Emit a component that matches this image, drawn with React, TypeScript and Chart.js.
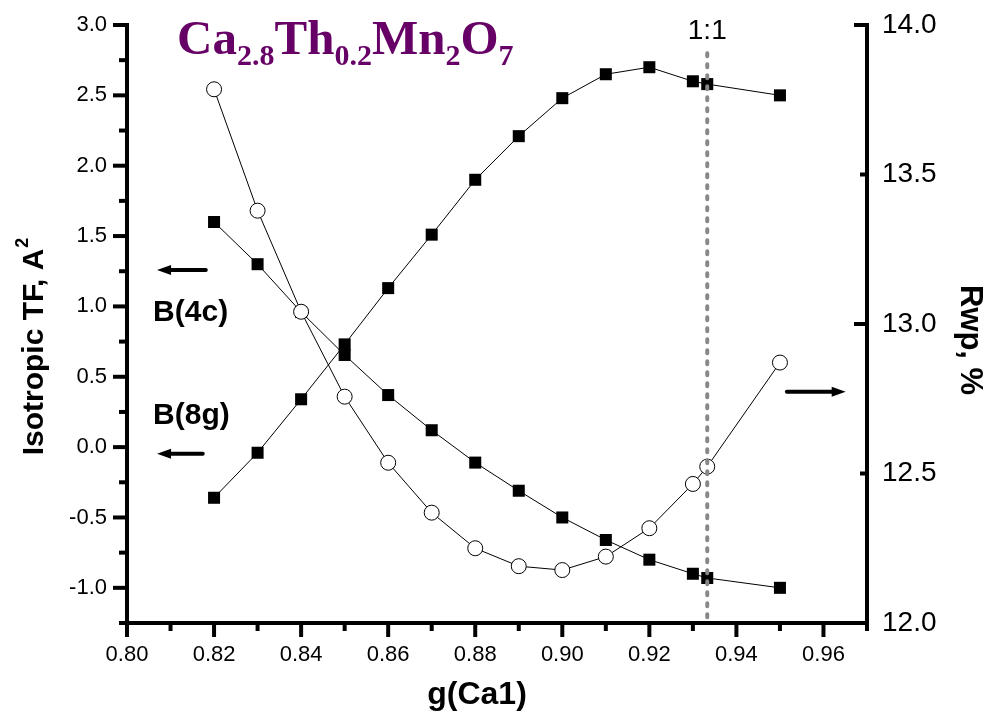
import React, { useEffect, useRef } from "react";
import { Chart, registerables } from "chart.js";

Chart.register(...registerables);

// ---------- data ----------
const gCa1 = [0.82, 0.83, 0.84, 0.85, 0.86, 0.87, 0.88, 0.89, 0.9, 0.91, 0.92, 0.93, 0.9333, 0.95];
const b8g = [-0.36, -0.04, 0.34, 0.73, 1.13, 1.51, 1.9, 2.21, 2.48, 2.65, 2.7, 2.6, 2.58, 2.5];
const b4c = [1.6, 1.3, 0.96, 0.655, 0.37, 0.12, -0.11, -0.31, -0.5, -0.66, -0.8, -0.9, -0.93, -1.0];
const rwp = [13.785, 13.379, 13.041, 12.757, 12.536, 12.369, 12.25, 12.19, 12.177, 12.222, 12.317, 12.465, 12.523, 12.871];

const ratioX = 0.9333;
const ratioYRange = [2.8, -1.25];

const xTicks = [0.8, 0.82, 0.84, 0.86, 0.88, 0.9, 0.92, 0.94, 0.96];
const xMinorTicks = [0.81, 0.83, 0.85, 0.87, 0.89, 0.91, 0.93, 0.95, 0.97];
const yLeftTicks = [-1.0, -0.5, 0.0, 0.5, 1.0, 1.5, 2.0, 2.5, 3.0];
const yLeftMinorTicks = [-1.25, -0.75, -0.25, 0.25, 0.75, 1.25, 1.75, 2.25, 2.75];
const yRightTicks = [12.0, 12.5, 13.0, 13.5, 14.0];
const yRightMajorMarks = [12.0, 13.0, 14.0];
const yRightMinorMarks = [12.5, 13.5];

const SANS = "'Liberation Sans', Arial, sans-serif";
const SERIF = "'Liberation Serif', 'Times New Roman', serif";

const titleParts: [string, boolean][] = [
  ["Ca", false], ["2.8", true], ["Th", false], ["0.2", true], ["Mn", false], ["2", true], ["O", false], ["7", true],
];

function arrow(ctx: CanvasRenderingContext2D, x1: number, x2: number, y: number, headAtRight: boolean) {
  const head = 14, half = 5;
  ctx.save();
  ctx.strokeStyle = "#000";
  ctx.fillStyle = "#000";
  ctx.lineWidth = 4;
  ctx.lineCap = "round";
  ctx.beginPath();
  if (headAtRight) {
    ctx.moveTo(x1, y);
    ctx.lineTo(x2 - head + 2, y);
  } else {
    ctx.moveTo(x1 + head - 2, y);
    ctx.lineTo(x2, y);
  }
  ctx.stroke();
  ctx.beginPath();
  if (headAtRight) {
    ctx.moveTo(x2, y);
    ctx.lineTo(x2 - head, y - half);
    ctx.lineTo(x2 - head, y + half);
  } else {
    ctx.moveTo(x1, y);
    ctx.lineTo(x1 + head, y - half);
    ctx.lineTo(x1 + head, y + half);
  }
  ctx.closePath();
  ctx.fill();
  ctx.restore();
}

const overlay = {
  id: "overlay",
  afterDraw(chart: any) {
    const { ctx, chartArea, scales } = chart;
    const xs = scales.x, ys = scales.y, yr = scales.y1;
    ctx.save();
    // tick marks
    ctx.strokeStyle = "#000";
    ctx.lineWidth = 4;
    ctx.lineCap = "butt";
    const line = (a: number, b: number, c: number, d: number) => {
      ctx.beginPath();
      ctx.moveTo(a, b);
      ctx.lineTo(c, d);
      ctx.stroke();
    };
    const L = chartArea.left, R = chartArea.right, B = chartArea.bottom;
    yLeftTicks.forEach((v) => { const p = ys.getPixelForValue(v); line(L - 14, p, L, p); });
    yLeftMinorTicks.forEach((v) => { const p = ys.getPixelForValue(v); line(L - 8, p, L, p); });
    xTicks.forEach((v) => { const p = xs.getPixelForValue(v); line(p, B, p, B + 14); });
    xMinorTicks.forEach((v) => { const p = xs.getPixelForValue(v); line(p, B, p, B + 8); });
    yRightMajorMarks.forEach((v) => { const p = yr.getPixelForValue(v); line(R - 13, p, R, p); });
    yRightMinorMarks.forEach((v) => { const p = yr.getPixelForValue(v); line(R - 7, p, R, p); });

    // title formula
    let tx = xs.getPixelForValue(0.8115);
    const ty = ys.getPixelForValue(2.795);
    ctx.fillStyle = "#660066";
    ctx.textBaseline = "alphabetic";
    ctx.textAlign = "left";
    titleParts.forEach(([t, sub]) => {
      ctx.font = sub ? `bold 30px ${SERIF}` : `bold 49px ${SERIF}`;
      ctx.fillText(t, tx, sub ? ty + 11.5 : ty);
      tx += ctx.measureText(t).width;
    });

    // 1:1 label
    ctx.fillStyle = "#000";
    ctx.font = `28px ${SANS}`;
    ctx.textAlign = "center";
    ctx.textBaseline = "middle";
    ctx.fillText("1:1", xs.getPixelForValue(ratioX), ys.getPixelForValue(2.955));

    // B labels
    ctx.font = `bold 30px ${SANS}`;
    ctx.textAlign = "left";
    ctx.fillText("B(4c)", xs.getPixelForValue(0.806), ys.getPixelForValue(0.954));
    ctx.fillText("B(8g)", xs.getPixelForValue(0.806), ys.getPixelForValue(0.222));

    // arrows
    arrow(ctx, xs.getPixelForValue(0.8069), xs.getPixelForValue(0.8181), ys.getPixelForValue(1.259), false);
    arrow(ctx, xs.getPixelForValue(0.8069), xs.getPixelForValue(0.8174), ys.getPixelForValue(-0.048), false);
    arrow(ctx, xs.getPixelForValue(0.9516), xs.getPixelForValue(0.9651), ys.getPixelForValue(0.393), true);

    // axis titles
    ctx.textBaseline = "alphabetic";
    // left
    ctx.save();
    ctx.translate(L - 84, 347);
    ctx.rotate(-Math.PI / 2);
    ctx.font = `bold 30px ${SANS}`;
    const mainT = "Isotropic TF, A";
    const wMain = ctx.measureText(mainT).width;
    ctx.font = `bold 18px ${SANS}`;
    const wSup = ctx.measureText("2").width;
    const start = -(wMain + wSup) / 2;
    ctx.font = `bold 30px ${SANS}`;
    ctx.textAlign = "left";
    ctx.fillText(mainT, start, 0);
    ctx.font = `bold 18px ${SANS}`;
    ctx.fillText("2", start + wMain + 1, -15);
    ctx.restore();
    // right
    ctx.save();
    ctx.translate(R + 94, 340);
    ctx.rotate(Math.PI / 2);
    ctx.font = `bold 31px ${SANS}`;
    ctx.textAlign = "center";
    ctx.fillText("Rwp, %", 0, 0);
    ctx.restore();
    // bottom
    ctx.font = `bold 32px ${SANS}`;
    ctx.textAlign = "center";
    ctx.fillText("g(Ca1)", (L + R) / 2 - 20, 704);
    ctx.restore();
  },
};

export default function App() {
  const ref = useRef<HTMLCanvasElement | null>(null);
  useEffect(() => {
    if (!ref.current) return;
    const pts = (ys: number[]) => gCa1.map((x, i) => ({ x, y: ys[i] }));
    const vFit = (w: number) => (s: any) => { s.width = w; s.paddingTop = 0; s.paddingBottom = 0; };
    const chart = new Chart(ref.current, {
      type: "line",
      data: {
        datasets: [
          {
            label: "1:1",
            data: ratioYRange.map((y) => ({ x: ratioX, y })),
            yAxisID: "y",
            borderColor: "#888888",
            borderWidth: 4,
            borderDash: [3, 8],
            borderCapStyle: "round",
            pointRadius: 0,
            order: 0,
          },
          {
            label: "Rwp",
            data: pts(rwp),
            yAxisID: "y1",
            borderColor: "#000",
            borderWidth: 1,
            pointStyle: "circle",
            pointRadius: 7.5,
            pointBackgroundColor: "#fff",
            pointBorderColor: "#000",
            pointBorderWidth: 1,
            order: 1,
          },
          {
            label: "B(4c)",
            data: pts(b4c),
            yAxisID: "y",
            borderColor: "#000",
            borderWidth: 1,
            pointStyle: "rect",
            pointRadius: 8.5,
            pointBackgroundColor: "#000",
            pointBorderWidth: 0,
            order: 2,
          },
          {
            label: "B(8g)",
            data: pts(b8g),
            yAxisID: "y",
            borderColor: "#000",
            borderWidth: 1,
            pointStyle: "rect",
            pointRadius: 8.5,
            pointBackgroundColor: "#000",
            pointBorderWidth: 0,
            order: 3,
          },
        ],
      },
      options: {
        animation: false,
        responsive: true,
        maintainAspectRatio: false,
        layout: { padding: { top: 25, left: 0, right: 0, bottom: 0 } },
        plugins: { legend: { display: false }, tooltip: { enabled: false } },
        elements: { line: { tension: 0 } },
        scales: {
          x: {
            type: "linear",
            min: 0.8,
            max: 0.97,
            afterBuildTicks: (s: any) => { s.ticks = xTicks.map((value) => ({ value })); },
            afterFit: (s: any) => { s.height = 91; s.paddingLeft = 0; s.paddingRight = 0; },
            ticks: { callback: (v: any) => Number(v).toFixed(2), font: { family: SANS, size: 22 }, color: "#000", padding: 19, maxRotation: 0, autoSkip: false },
            grid: { display: false, drawTicks: false },
            border: { display: true, color: "#000", width: 4 },
          },
          y: {
            type: "linear",
            position: "left",
            min: -1.25,
            max: 3.0,
            afterBuildTicks: (s: any) => { s.ticks = yLeftTicks.map((value) => ({ value })); },
            afterFit: vFit(127),
            ticks: { callback: (v: any) => Number(v).toFixed(1), font: { family: SANS, size: 22 }, color: "#000", padding: 20, autoSkip: false },
            grid: { display: false, drawTicks: false },
            border: { display: true, color: "#000", width: 4 },
          },
          y1: {
            type: "linear",
            position: "right",
            min: 12.0,
            max: 14.0,
            afterBuildTicks: (s: any) => { s.ticks = yRightTicks.map((value) => ({ value })); },
            afterFit: vFit(120),
            ticks: { callback: (v: any) => Number(v).toFixed(1), font: { family: SANS, size: 28 }, color: "#000", padding: 15, autoSkip: false },
            grid: { display: false, drawTicks: false },
            border: { display: true, color: "#000", width: 4 },
          },
        },
      },
      plugins: [overlay],
    });
    return () => chart.destroy();
  }, []);
  return (
    <div style={{ position: "absolute", left: 0, top: 0, width: 987, height: 714, background: "#fff" }}>
      <canvas ref={ref} />
    </div>
  );
}
